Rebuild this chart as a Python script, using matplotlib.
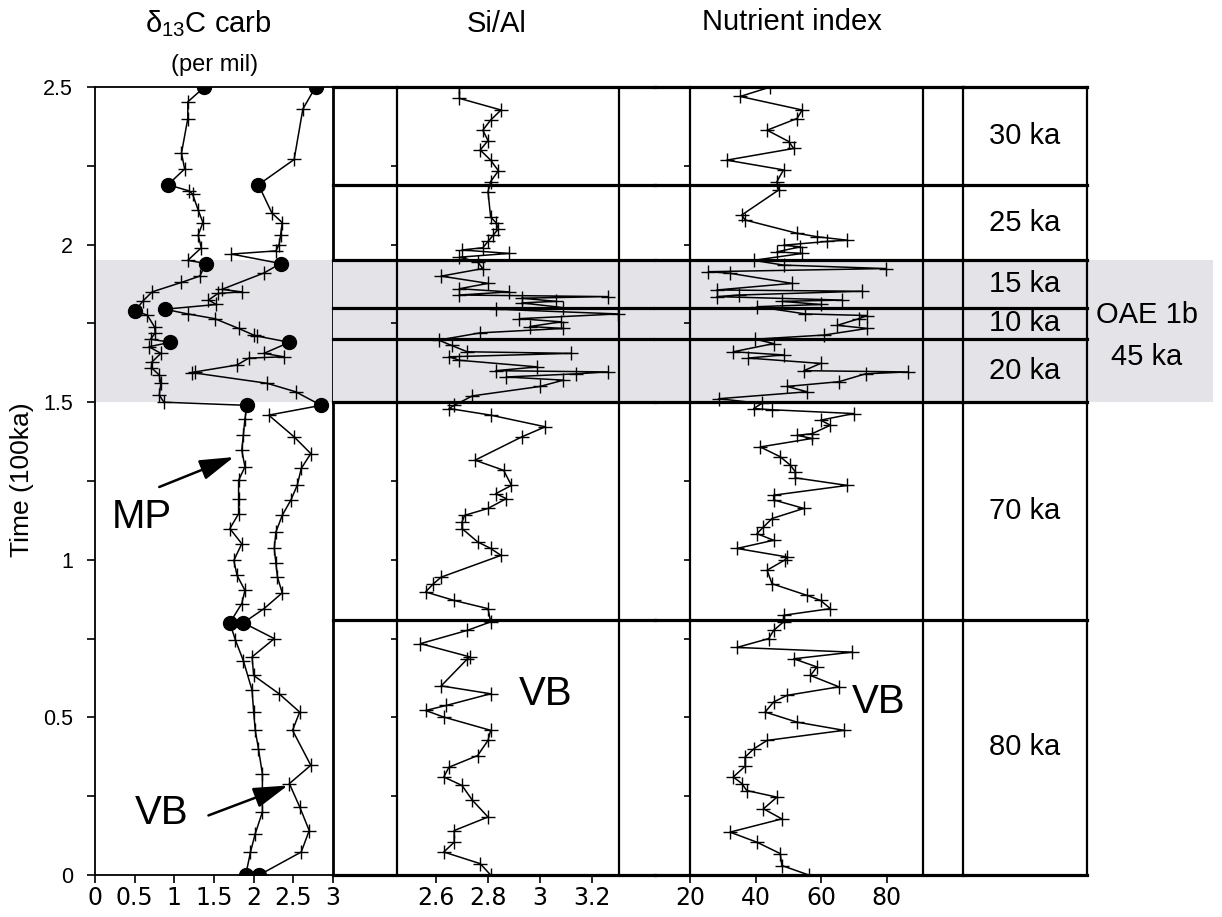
import matplotlib.pyplot as plt

plt.rcParams['font.family'] = ['Liberation Sans', 'DejaVu Sans']
plt.rcParams['mathtext.fontset'] = 'custom'
plt.rcParams['mathtext.rm'] = 'Liberation Sans'
plt.rcParams['mathtext.default'] = 'regular'

# --- delta 13C carbonate, two sections (time in 100 ka, value in per mil) ---
mp_t = [2.50, 2.453, 2.40, 2.29, 2.24, 2.19, 2.17, 2.16, 2.11, 2.07, 2.03, 1.99,
        1.95, 1.94, 1.90, 1.88, 1.85, 1.82, 1.79, 1.776, 1.739, 1.72, 1.70, 1.69,
        1.676, 1.655, 1.628, 1.61, 1.586, 1.56, 1.522, 1.50, 1.49, 1.448, 1.395,
        1.348, 1.295, 1.252, 1.194, 1.146, 1.099, 1.051, 0.998, 0.951, 0.903,
        0.861, 0.80, 0.745, 0.68, 0.586, 0.517, 0.459, 0.401, 0.321, 0.25, 0.20,
        0.131, 0.073, 0.0]
mp_d13c = [1.38, 1.17, 1.17, 1.09, 1.13, 0.92, 1.19, 1.23, 1.30, 1.36, 1.30, 1.34,
           1.17, 1.40, 1.32, 1.09, 0.72, 0.60, 0.51, 0.66, 0.75, 0.76, 0.70, 0.95,
           0.68, 0.83, 0.72, 0.71, 0.81, 0.83, 0.81, 0.87, 1.92, 1.89, 1.87,
           1.85, 1.89, 1.81, 1.81, 1.81, 1.70, 1.85, 1.75, 1.79, 1.89,
           1.85, 1.70, 1.77, 1.87, 1.98, 2.00, 2.02, 2.06, 2.11, 2.11, 2.11,
           2.02, 1.96, 1.90]
mp_dots = [0, 5, 13, 18, 23, 32, 46, 58]

vb_t = [2.50, 2.43, 2.27, 2.19, 2.10, 2.07, 2.03, 2.00, 1.98, 1.97, 1.94, 1.91,
        1.858, 1.85, 1.845, 1.824, 1.81, 1.795, 1.78, 1.765, 1.734, 1.713, 1.71,
        1.69, 1.655, 1.644, 1.64, 1.618, 1.596, 1.594, 1.56, 1.533, 1.49, 1.459,
        1.39, 1.337, 1.29, 1.237, 1.19, 1.141, 1.088, 1.036, 0.99, 0.945, 0.895,
        0.845, 0.80, 0.75, 0.692, 0.633, 0.575, 0.517, 0.459, 0.348, 0.29, 0.216,
        0.141, 0.073, 0.0]
vb_d13c = [2.78, 2.62, 2.51, 2.06, 2.23, 2.36, 2.34, 2.32, 2.28, 1.72, 2.34, 2.13,
           1.60, 1.85, 1.55, 1.43, 1.53, 0.88, 1.17, 1.51, 1.81, 2.00, 2.04,
           2.45, 2.13, 2.38, 1.94, 1.79, 1.26, 1.22, 2.17, 2.53, 2.85, 2.19,
           2.51, 2.72, 2.60, 2.55, 2.47, 2.36, 2.28, 2.26, 2.28, 2.30, 2.36,
           2.13, 1.87, 2.26, 1.98, 2.00, 2.32, 2.58, 2.49, 2.72, 2.45, 2.58,
           2.70, 2.60, 2.07]
vb_dots = [0, 3, 10, 17, 23, 32, 46, 58]

d13c_ticks = [0, 0.5, 1, 1.5, 2, 2.5, 3]
time_ticks = [0, 0.5, 1, 1.5, 2, 2.5]

# --- Si/Al ---
si_t = [2.50, 2.464, 2.427, 2.395, 2.363, 2.33, 2.30, 2.268, 2.234, 2.20, 2.168,
        2.088, 2.07, 2.05, 2.03, 2.01, 1.99, 1.983, 1.972, 1.96, 1.945, 1.924,
        1.90, 1.877, 1.86, 1.85, 1.84, 1.835, 1.83, 1.82, 1.815, 1.80, 1.795,
        1.78, 1.765, 1.755, 1.74, 1.734, 1.72, 1.697, 1.68, 1.66, 1.655, 1.644,
        1.633, 1.612, 1.60, 1.596, 1.59, 1.58, 1.57, 1.55, 1.52, 1.49, 1.48,
        1.459, 1.422, 1.39, 1.316, 1.284, 1.236, 1.21, 1.194, 1.163, 1.141,
        1.12, 1.099, 1.057, 1.036, 1.014, 0.945, 0.924, 0.898, 0.871, 0.845,
        0.803, 0.776, 0.734, 0.692, 0.685, 0.60, 0.575, 0.538, 0.522, 0.501,
        0.459, 0.427, 0.379, 0.342, 0.311, 0.284, 0.237, 0.184, 0.141, 0.104,
        0.073, 0.036, 0.0]
si_al = [2.69, 2.69, 2.85, 2.81, 2.78, 2.80, 2.77, 2.81, 2.84, 2.81, 2.80,
         2.81, 2.83, 2.84, 2.82, 2.80, 2.78, 2.70, 2.88, 2.69, 2.76, 2.78,
         2.62, 2.80, 2.69, 2.88, 2.69, 3.26, 2.93, 3.06, 2.93, 3.09, 2.83,
         3.30, 2.92, 3.08, 2.96, 3.09, 2.77, 2.61, 2.66, 2.72, 3.12, 2.65,
         2.69, 2.99, 2.83, 3.26, 3.14, 2.87, 3.09, 3.00, 2.74, 2.67, 2.65,
         2.81, 3.02, 2.93, 2.75, 2.86, 2.89, 2.83, 2.87, 2.80, 2.71,
         2.70, 2.70, 2.76, 2.81, 2.85, 2.62, 2.59, 2.56, 2.67, 2.80,
         2.81, 2.72, 2.54, 2.73, 2.72, 2.62, 2.81, 2.64, 2.56, 2.63,
         2.81, 2.80, 2.76, 2.65, 2.63, 2.70, 2.74, 2.80, 2.67, 2.67,
         2.63, 2.77, 2.81]
si_ticks = [2.6, 2.8, 3.0, 3.2]

# --- nutrient index ---
nut_t = [2.50, 2.47, 2.427, 2.40, 2.363, 2.327, 2.305, 2.268, 2.237, 2.20, 2.173,
         2.094, 2.078, 2.036, 2.025, 2.014, 2.01, 1.998, 1.993, 1.977, 1.972,
         1.95, 1.935, 1.924, 1.914, 1.909, 1.877, 1.856, 1.852, 1.84, 1.835,
         1.824, 1.82, 1.81, 1.803, 1.78, 1.775, 1.765, 1.744, 1.734, 1.713,
         1.70, 1.686, 1.66, 1.65, 1.64, 1.623, 1.60, 1.596, 1.59, 1.565, 1.55,
         1.533, 1.511, 1.496, 1.48, 1.476, 1.464, 1.443, 1.427, 1.40, 1.395,
         1.385, 1.358, 1.327, 1.30, 1.279, 1.26, 1.236, 1.205, 1.19, 1.163,
         1.131, 1.104, 1.083, 1.062, 1.036, 1.009, 1.00, 0.967, 0.924, 0.887,
         0.871, 0.845, 0.824, 0.803, 0.776, 0.75, 0.722, 0.707, 0.686, 0.66,
         0.633, 0.597, 0.57, 0.549, 0.517, 0.485, 0.459, 0.427, 0.40, 0.374,
         0.345, 0.311, 0.29, 0.268, 0.247, 0.21, 0.178, 0.136, 0.104, 0.068,
         0.03, 0.0]
nutrient = [44.5, 35.3, 54.2, 52.6, 43.5, 50.1, 51.6, 31.2, 48.5, 46.5, 47.0,
            35.8, 36.8, 52.6, 58.7, 67.9, 61.8, 48.5, 53.6, 46.5, 54.2,
            39.4, 48.5, 79.6, 25.6, 32.2, 51.1, 28.2, 72.5, 34.8, 28.2,
            66.4, 48.0, 59.8, 40.4, 55.2, 74.0, 71.5, 64.9, 74.0, 60.8,
            39.9, 45.5, 33.2, 48.5, 37.8, 59.8, 54.7, 86.3, 73.5, 65.4, 49.6,
            55.7, 28.7, 41.9, 39.4, 45.0, 69.9, 59.8, 62.8, 57.2, 52.6,
            57.2, 41.4, 47.5, 50.6, 52.1, 52.1, 67.9, 45.5, 45.5, 54.7,
            45.0, 42.4, 40.4, 45.5, 34.3, 49.6, 49.0, 43.5, 45.0, 55.7,
            59.8, 62.8, 48.5, 48.5, 45.5, 44.0, 34.3, 69.4, 51.6, 58.7,
            56.7, 65.4, 49.6, 45.5, 42.9, 52.6, 66.9, 43.5, 39.4, 36.8,
            36.8, 33.2, 35.8, 37.3, 46.5, 42.4, 48.0, 32.2, 40.4, 47.5,
            48.0, 56.2]
nut_ticks = [20, 40, 60, 80]

# --- zones ---
zone_edges = [2.5, 2.19, 1.95, 1.80, 1.70, 1.50, 0.81, 0.0]
zone_labels = ['30 ka', '25 ka', '15 ka', '10 ka', '20 ka', '70 ka', '80 ka']
oae_band = (1.50, 1.95)
oae_labels = ['OAE 1b', '45 ka']

W, H = 1222, 917
BAND = '#e4e4e8'
fig = plt.figure(figsize=(W / 100, H / 100), dpi=100)


def px(x, y):
    return x / W, 1 - y / H


def box(x0, x1, y0=87, y1=875):
    return [x0 / W, 1 - y1 / H, (x1 - x0) / W, (y1 - y0) / H]


def fmt(v):
    return '%g' % v


ax1 = fig.add_axes(box(95, 333))
ax2 = fig.add_axes(box(333, 655))
ax3 = fig.add_axes(box(655, 963))
ax4 = fig.add_axes(box(963, 1087))
for ax in (ax2, ax3, ax4):
    ax.patch.set_visible(False)
    ax.set_ylim(0, 2.5)
    for s in ax.spines.values():
        s.set_visible(False)

line_kw = dict(color='black', lw=1.1, marker='+', ms=10, mew=1.0)
dot_kw = dict(color='black', marker='o', ms=10, ls='none')
xlab_kw = dict(fontfamily='Liberation Sans Narrow', fontsize=17)

# delta 13C panel
ax1.axhspan(*oae_band, color=BAND, lw=0, zorder=0)
ax1.plot(mp_d13c, mp_t, **line_kw)
ax1.plot(vb_d13c, vb_t, **line_kw)
ax1.plot([mp_d13c[i] for i in mp_dots], [mp_t[i] for i in mp_dots], **dot_kw)
ax1.plot([vb_d13c[i] for i in vb_dots], [vb_t[i] for i in vb_dots], **dot_kw)
ax1.set_xlim(0, 3)
ax1.set_ylim(0, 2.5)
ax1.set_xticks(d13c_ticks, [fmt(v) for v in d13c_ticks], **xlab_kw)
ax1.set_yticks(time_ticks, [fmt(v) for v in time_ticks], fontsize=15.5)
ax1.set_yticks([0.25, 0.75, 1.25, 1.75, 2.25], minor=True)
ax1.tick_params(axis='y', which='both', direction='out', length=6, width=1.2, pad=10)
ax1.tick_params(axis='x', direction='out', length=6, width=1.2, pad=2)
for s in ax1.spines.values():
    s.set_linewidth(1.3)
ax1.spines['right'].set_linewidth(2.0)

arrow = dict(arrowstyle='-|>,head_length=1.5,head_width=0.45', color='black',
             lw=1.8, mutation_scale=14, shrinkA=0, shrinkB=0)
ax1.annotate('', xy=(1.75, 1.326), xytext=(0.81, 1.231), arrowprops=arrow)
ax1.annotate('', xy=(2.43, 0.284), xytext=(1.43, 0.189), arrowprops=arrow)
ax1.text(0.59, 1.135, 'MP', fontsize=29, ha='center', va='center')
ax1.text(0.84, 0.197, 'VB', fontsize=29, ha='center', va='center')

# Si/Al panel
ax2.set_xlim(2.204, 3.442)
ax2.axhspan(*oae_band, color=BAND, lw=0, zorder=0)
ax2.plot(si_al, si_t, **line_kw)
ax2.spines['left'].set_visible(True)
ax2.spines['left'].set_position(('data', 2.45))
ax2.spines['left'].set_linewidth(1.6)
ax2.axvline(3.304, color='black', lw=1.6)
ax2.set_xticks(si_ticks, [fmt(v) for v in si_ticks], **xlab_kw)
ax2.text(3.02, 0.573, 'VB', fontsize=29, ha='center', va='center')

# nutrient panel
ax3.set_xlim(9.34, 103.2)
ax3.axhspan(*oae_band, color=BAND, lw=0, zorder=0)
ax3.plot(nutrient, nut_t, **line_kw)
ax3.spines['left'].set_visible(True)
ax3.spines['left'].set_position(('data', 20))
ax3.spines['left'].set_linewidth(1.6)
ax3.axvline(91.0, color='black', lw=1.6)
ax3.set_xticks(nut_ticks, [fmt(v) for v in nut_ticks], **xlab_kw)
ax3.text(77.6, 0.548, 'VB', fontsize=29, ha='center', va='center')

for ax in (ax2, ax3):
    ax.set_yticks([0.25 * k for k in range(11)])
    ax.tick_params(axis='y', direction='out', length=4, width=1.2, labelleft=False)
    ax.tick_params(axis='x', direction='out', length=6, width=1.2, pad=2)

# zone column
ax4.set_xlim(0, 1)
ax4.axhspan(*oae_band, xmin=0, xmax=2.02, color=BAND, lw=0, zorder=0, clip_on=False)
ax4.spines['left'].set_visible(True)
ax4.spines['right'].set_visible(True)
ax4.spines['left'].set_linewidth(1.6)
ax4.spines['right'].set_linewidth(1.6)
ax4.set_xticks([])
ax4.set_yticks([])
for lab, top, bot in zip(zone_labels, zone_edges[:-1], zone_edges[1:]):
    ax4.text(0.5, (top + bot) / 2, lab, fontsize=21, ha='center', va='center')
ax4.text(1.48, 1.776, oae_labels[0], fontsize=21, ha='center', va='center')
ax4.text(1.48, 1.644, oae_labels[1], fontsize=21, ha='center', va='center')

# thick zone boundaries across the right-hand panels
for ax in (ax2, ax3, ax4):
    for y in zone_edges:
        ax.axhline(y, color='black', lw=2.3, clip_on=False, zorder=3)

# headers
fig.text(*px(208, 24), r'$\delta_{13}$C carb', fontsize=21, ha='center', va='center')
fig.text(*px(215, 65), '(per mil)', fontsize=17, ha='center', va='center')
fig.text(*px(497, 24), 'Si/Al', fontsize=21, ha='center', va='center')
fig.text(*px(792, 22), 'Nutrient index', fontsize=21, ha='center', va='center')
fig.text(*px(22, 480), 'Time (100ka)', fontsize=19, rotation=90,
         ha='center', va='center')

fig.savefig('out.png', dpi=100)
